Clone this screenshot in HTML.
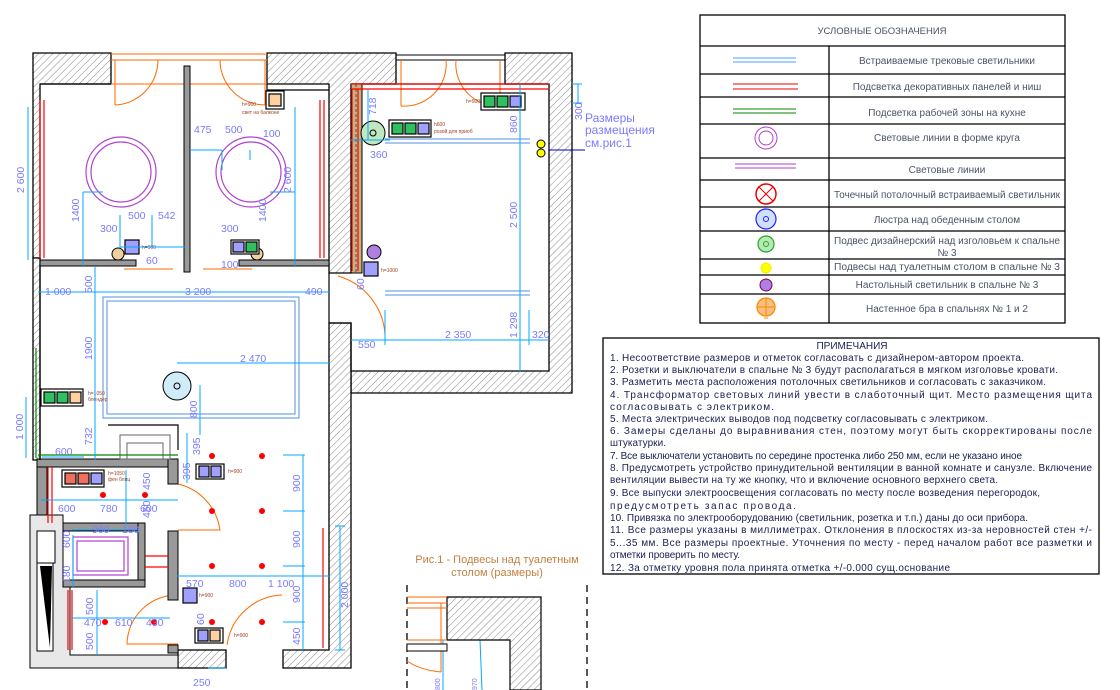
<!DOCTYPE html>
<html><head><meta charset="utf-8"><style>
html,body{margin:0;padding:0;background:#fff}
svg{display:block}
text{font-family:"Liberation Sans Narrow","Liberation Sans",sans-serif}
.d{fill:#7a7aff;font-size:10.5px}
.lg{fill:#4a5468;font-size:10px}
.nt{fill:#1a2050;font-size:10px}
.sm{fill:#a04020;font-size:5px}
</style></head><body>
<svg width="1120" height="690" viewBox="0 0 1120 690" xmlns="http://www.w3.org/2000/svg">
<defs>
<pattern id="h" width="5" height="5" patternUnits="userSpaceOnUse" patternTransform="rotate(45)">
<rect width="5" height="5" fill="#fff"/><line x1="0" y1="0" x2="0" y2="5" stroke="#888" stroke-width="1"/>
</pattern>
</defs>

<g stroke="#000" stroke-width="1.3">
<path d="M33 53 H111 V84 H40 V258 H33 Z" fill="url(#h)"/>
<path d="M33 258 H40 V460 H33 Z" fill="url(#h)"/>
<path d="M267 53 H396 V84 H351 V273 H329 V84 H267 Z" fill="url(#h)"/>
<path d="M505 53 H572 V393 H351 V371 H549 V84 H505 Z" fill="url(#h)"/>
<path d="M329 323 H351 V668 H283 V650 H329 Z" fill="url(#h)"/>
<path d="M329 323 H351 V371" fill="none"/>
<rect x="178" y="650" width="48" height="18" fill="url(#h)"/>
</g>
<g stroke="#000" stroke-width="1">
<line x1="396" y1="55" x2="505" y2="55"/><line x1="396" y1="60" x2="505" y2="60"/>
</g>
<g stroke="#ff6a00" stroke-width="1" fill="none">
<line x1="111" y1="54" x2="267" y2="54"/><line x1="111" y1="60" x2="267" y2="60"/><line x1="111" y1="84" x2="267" y2="84"/>
<line x1="115" y1="60" x2="115" y2="105"/><path d="M115 105 A45 45 0 0 0 158 60"/>
<line x1="265" y1="60" x2="265" y2="105"/><path d="M265 105 A45 45 0 0 1 220 60"/>
<line x1="401" y1="60" x2="401" y2="106"/><path d="M401 106 A42 42 0 0 0 446 60"/>
<line x1="500" y1="60" x2="500" y2="106"/><path d="M500 106 A42 42 0 0 1 456 60"/>
<path d="M338 276 A65 65 0 0 1 385 335"/>
<path d="M178 484 A55 55 0 0 1 220 530 H178"/>
<path d="M178 644 H127 A50 50 0 0 1 178 595"/>
<path d="M227 645 A58 58 0 0 1 282 595"/>
<line x1="124" y1="269" x2="173" y2="269"/><line x1="203" y1="269" x2="252" y2="269"/>
</g>
<g fill="#999" stroke="#000" stroke-width="1">
<rect x="184" y="66" width="6" height="206"/>
<rect x="40" y="260" width="96" height="6"/>
<rect x="239" y="260" width="90" height="6"/>
<rect x="37" y="459" width="141" height="8"/>
<rect x="168" y="459" width="10" height="25"/>
<rect x="37" y="467" width="10" height="58"/>
<rect x="37" y="523" width="108" height="8"/>
<rect x="138" y="523" width="7" height="64"/>
<rect x="63" y="580" width="82" height="7"/>
<rect x="168" y="531" width="10" height="69"/>
<rect x="168" y="645" width="10" height="8"/>
</g>
<g fill="#e8e8e8" stroke="#000" stroke-width="1">
<path d="M30 515 H63 V587 H70 V655 H178 V668 H30 Z"/>
</g>
<rect x="37" y="563" width="16" height="88" fill="#fff" stroke="#000"/>
<polygon points="40,566 52,566 50,648" fill="#000"/>
<rect x="37" y="531" width="18" height="32" fill="#fff" stroke="#000"/>
<g stroke="#000" stroke-width="1.2" fill="none">
<path d="M40 84 H111"/><path d="M267 84 V90 H329"/><path d="M351 84 H549"/>
<path d="M40 266 V460"/><path d="M329 273 V323"/>
<path d="M108 425 H178 V450"/>
</g>
<rect x="120" y="435" width="50" height="24" fill="none" stroke="#666"/>
<rect x="127" y="443" width="36" height="16" fill="none" stroke="#666"/>
<rect x="351" y="84" width="11" height="189" fill="#c8b080" stroke="#000"/>
<line x1="356" y1="84" x2="356" y2="273" stroke="#555" stroke-dasharray="3,2"/>

<g stroke="#ff0000" stroke-width="1.2" fill="none">
<line x1="40" y1="100" x2="40" y2="258"/><line x1="44" y1="100" x2="44" y2="258"/>
<line x1="320" y1="100" x2="320" y2="258"/><line x1="324" y1="100" x2="324" y2="258"/>
<line x1="351" y1="84" x2="549" y2="84"/><line x1="351" y1="89" x2="549" y2="89"/>
<line x1="352" y1="89" x2="352" y2="271"/><line x1="358" y1="89" x2="358" y2="271"/>
<line x1="48" y1="467" x2="48" y2="523"/><line x1="52" y1="467" x2="52" y2="523"/>
<line x1="68" y1="590" x2="68" y2="650"/><line x1="72" y1="590" x2="72" y2="650"/>
<line x1="145" y1="556" x2="168" y2="556"/><line x1="145" y1="567" x2="168" y2="567"/>
<line x1="323" y1="528" x2="323" y2="648"/>
</g>
<g stroke="#008800" stroke-width="1.2"><line x1="36" y1="348" x2="36" y2="458"/><line x1="38" y1="455" x2="178" y2="455"/></g>

<g fill="none" stroke="#b040d0" stroke-width="1.2">
<circle cx="121" cy="172" r="35"/><circle cx="121" cy="172" r="30"/>
<circle cx="251" cy="172" r="35"/><circle cx="251" cy="172" r="30"/>
<rect x="73" y="537" width="55" height="38"/><rect x="77" y="541" width="47" height="30"/>
</g>
<g fill="none" stroke="#5090e0" stroke-width="1">
<rect x="103" y="297" width="196" height="121"/><rect x="107" y="301" width="188" height="113"/>
<line x1="385" y1="139" x2="530" y2="139"/><line x1="385" y1="143" x2="530" y2="143"/>
<line x1="385" y1="291" x2="530" y2="291"/><line x1="385" y1="295" x2="530" y2="295"/>
</g>
<circle cx="177" cy="386" r="14" fill="#d0ecf8" stroke="#000"/><circle cx="177" cy="386" r="3" fill="none" stroke="#000"/>
<circle cx="373" cy="133" r="12" fill="#c0e8c0" stroke="#000"/><circle cx="373" cy="133" r="3" fill="none" stroke="#000"/>
<circle cx="374" cy="252" r="7" fill="#b080e0" stroke="#000"/>
<g fill="#ff0" stroke="#000"><circle cx="541" cy="144" r="4"/><circle cx="541" cy="153" r="4"/></g>
<g fill="#f0d0a0" stroke="#000"><circle cx="118" cy="254" r="6"/><circle cx="257" cy="254" r="6"/></g>
<g fill="#f00">
<circle cx="212" cy="456" r="3"/><circle cx="262" cy="456" r="3"/><circle cx="212" cy="511" r="3"/><circle cx="262" cy="511" r="3"/>
<circle cx="212" cy="566" r="3"/><circle cx="262" cy="566" r="3"/><circle cx="212" cy="622" r="3"/><circle cx="262" cy="622" r="3"/>
<circle cx="103" cy="495" r="3"/><circle cx="145" cy="495" r="3"/><circle cx="105" cy="622" r="3"/><circle cx="154" cy="622" r="3"/>
</g>
<g stroke="#000" stroke-width="1.2">
<rect x="266" y="91" width="18" height="18" fill="#fff"/><rect x="269" y="94" width="12" height="12" fill="#ffd0a0"/>
<rect x="481" y="93" width="44" height="17" fill="#fff"/><rect x="484" y="96" width="11" height="11" fill="#30c060"/><rect x="497" y="96" width="11" height="11" fill="#30c060"/><rect x="510" y="96" width="11" height="11" fill="#a0a0ff"/>
<rect x="389" y="120" width="42" height="17" fill="#fff"/><rect x="392" y="123" width="11" height="11" fill="#30c060"/><rect x="405" y="123" width="11" height="11" fill="#30c060"/><rect x="418" y="123" width="11" height="11" fill="#a0a0ff"/>
<rect x="364" y="262" width="14" height="14" fill="#a0a0ff"/>
<rect x="125" y="240" width="14" height="14" fill="#a0a0ff"/>
<rect x="231" y="240" width="28" height="14" fill="#fff"/><rect x="233" y="242" width="11" height="10" fill="#a0a0ff"/><rect x="246" y="242" width="11" height="10" fill="#30c060"/>
<rect x="41" y="389" width="42" height="17" fill="#fff"/><rect x="44" y="392" width="11" height="11" fill="#30c060"/><rect x="57" y="392" width="11" height="11" fill="#30c060"/><rect x="70" y="392" width="11" height="11" fill="#ffd0a0"/>
<rect x="62" y="470" width="42" height="17" fill="#fff"/><rect x="65" y="473" width="11" height="11" fill="#f07060"/><rect x="78" y="473" width="11" height="11" fill="#f07060"/><rect x="91" y="473" width="11" height="11" fill="#a0a0ff"/>
<rect x="196" y="464" width="28" height="15" fill="#fff"/><rect x="199" y="466" width="10" height="11" fill="#a0a0ff"/><rect x="211" y="466" width="10" height="11" fill="#a0a0ff"/>
<rect x="183" y="588" width="14" height="15" fill="#a0a0ff"/>
<rect x="195" y="628" width="28" height="15" fill="#fff"/><rect x="198" y="630" width="10" height="11" fill="#a0a0ff"/><rect x="210" y="630" width="10" height="11" fill="#ffd0a0"/>
</g>
<g class="sm">
<text x="242" y="106">h=900</text><text x="242" y="114">свет на балконе</text>
<text x="466" y="103">h=900</text><text x="434" y="126">h600</text><text x="434" y="133">розой для приоб</text>
<text x="381" y="272">h=1000</text><text x="142" y="249">h=900</text><text x="88" y="395">h=1050</text><text x="88" y="401">блендер</text>
<text x="108" y="475">h=1050</text><text x="108" y="481">фен блиц</text><text x="228" y="473">h=900</text><text x="199" y="597">h=900</text><text x="234" y="637">h=900</text>
</g>

<g stroke="#00aaff" stroke-width="1" fill="none">
<line x1="28" y1="107" x2="28" y2="260"/><line x1="295" y1="107" x2="295" y2="260"/>
<line x1="83" y1="192" x2="83" y2="266"/><line x1="83" y1="192" x2="103" y2="192"/>
<line x1="120" y1="248" x2="120" y2="215"/><line x1="120" y1="247" x2="186" y2="247"/><line x1="152" y1="215" x2="152" y2="247"/>
<line x1="190" y1="150" x2="222" y2="150"/><line x1="222" y1="150" x2="222" y2="170"/><line x1="250" y1="150" x2="250" y2="160"/>
<line x1="270" y1="192" x2="295" y2="192"/><line x1="295" y1="192" x2="295" y2="266"/>
<line x1="38" y1="292" x2="330" y2="292"/><line x1="95" y1="266" x2="95" y2="460"/>
<line x1="368" y1="90" x2="368" y2="140"/><line x1="351" y1="140" x2="390" y2="140"/>
<line x1="520" y1="84" x2="520" y2="372"/><line x1="572" y1="84" x2="582" y2="84"/><line x1="572" y1="103" x2="582" y2="103"/><line x1="578" y1="84" x2="578" y2="103"/>
<line x1="351" y1="340" x2="549" y2="340"/><line x1="385" y1="310" x2="385" y2="345"/><line x1="529" y1="310" x2="529" y2="345"/>
<line x1="177" y1="363" x2="330" y2="363"/><line x1="200" y1="385" x2="200" y2="435"/>
<line x1="26" y1="397" x2="26" y2="458"/><line x1="42" y1="457" x2="84" y2="457"/>
<line x1="187" y1="433" x2="187" y2="483"/>
<line x1="41" y1="500" x2="178" y2="500"/><line x1="126" y1="470" x2="126" y2="525"/>
<line x1="72" y1="530" x2="140" y2="530"/><line x1="73" y1="535" x2="73" y2="587"/>
<line x1="283" y1="455" x2="305" y2="455"/><line x1="283" y1="511" x2="305" y2="511"/><line x1="283" y1="566" x2="305" y2="566"/><line x1="283" y1="622" x2="305" y2="622"/>
<line x1="303" y1="455" x2="303" y2="650"/><line x1="177" y1="576" x2="330" y2="576"/>
<line x1="340" y1="526" x2="340" y2="650"/><line x1="335" y1="526" x2="345" y2="526"/><line x1="335" y1="650" x2="345" y2="650"/>
<line x1="97" y1="590" x2="97" y2="655"/><line x1="72" y1="618" x2="170" y2="618"/>
<line x1="208" y1="668" x2="226" y2="668"/>
<line x1="443" y1="640" x2="443" y2="690"/><line x1="480" y1="640" x2="482" y2="690"/><line x1="468" y1="640" x2="482" y2="640"/>
</g>
<line x1="549" y1="150" x2="585" y2="150" stroke="#0000c0"/>
<g class="d">
<text x="45" y="295">1 000</text><text x="185" y="295">3 200</text><text x="305" y="295">490</text>
<text x="263" y="137">100</text><text x="194" y="133">475</text><text x="225" y="133">500</text>
<text x="128" y="219">500</text><text x="158" y="219">542</text><text x="100" y="232">300</text><text x="221" y="232">300</text>
<text x="146" y="264">60</text><text x="221" y="268">100</text>
<text x="370" y="158">360</text><text x="358" y="348">550</text><text x="445" y="338">2 350</text><text x="532" y="338">320</text>
<text x="240" y="362">2 470</text><text x="55" y="455">600</text>
<text x="58" y="512">600</text><text x="100" y="512">780</text><text x="140" y="512">600</text>
<text x="92" y="533">900</text><text x="122" y="533">180</text>
<text x="186" y="587">570</text><text x="229" y="587">800</text><text x="268" y="587">1 100</text>
<text x="84" y="626">470</text><text x="115" y="626">610</text><text x="146" y="626">430</text>
<text x="193" y="686">250</text>
<text x="585" y="122" font-size="12">Размеры</text><text x="585" y="134" font-size="12">размещения</text><text x="585" y="147" font-size="12">см.рис.1</text>
</g>
<g class="d">
<text transform="translate(24,193) rotate(-90)">2 600</text><text transform="translate(291,193) rotate(-90)">2 600</text>
<text transform="translate(79,222) rotate(-90)">1400</text><text transform="translate(266,222) rotate(-90)">1400</text>
<text transform="translate(92,293) rotate(-90)">500</text><text transform="translate(92,360) rotate(-90)">1900</text>
<text transform="translate(376,115) rotate(-90)">718</text><text transform="translate(517,133) rotate(-90)">860</text>
<text transform="translate(517,228) rotate(-90)">2 500</text><text transform="translate(517,338) rotate(-90)">1 298</text>
<text transform="translate(582,120) rotate(-90)">300</text><text transform="translate(364,290) rotate(-90)">60</text>
<text transform="translate(197,418) rotate(-90)">800</text><text transform="translate(23,440) rotate(-90)">1 000</text>
<text transform="translate(92,445) rotate(-90)">732</text><text transform="translate(200,455) rotate(-90)">395</text>
<text transform="translate(190,480) rotate(-90)">395</text><text transform="translate(150,490) rotate(-90)">450</text>
<text transform="translate(150,518) rotate(-90)">450</text><text transform="translate(70,548) rotate(-90)">600</text>
<text transform="translate(70,583) rotate(-90)">180</text><text transform="translate(300,492) rotate(-90)">900</text>
<text transform="translate(300,548) rotate(-90)">900</text><text transform="translate(300,603) rotate(-90)">900</text>
<text transform="translate(300,645) rotate(-90)">450</text><text transform="translate(348,608) rotate(-90)">2 000</text>
<text transform="translate(93,615) rotate(-90)">500</text><text transform="translate(93,650) rotate(-90)">500</text>
<text transform="translate(204,625) rotate(-90)">60</text>
<text transform="translate(477,690) rotate(-90)" font-size="7">970</text><text transform="translate(440,690) rotate(-90)" font-size="7">800</text>
</g>

<text x="497" y="563" text-anchor="middle" fill="#c08040" font-size="11">Рис.1 - Подвесы над туалетным</text>
<text x="497" y="576" text-anchor="middle" fill="#c08040" font-size="11">столом (размеры)</text>
<g stroke="#000" stroke-width="1.3" stroke-dasharray="7,5"><line x1="407" y1="585" x2="407" y2="690"/><line x1="587" y1="585" x2="587" y2="690"/></g>
<path d="M447 597 H541 V690 H510 V640 H447 Z" fill="url(#h)" stroke="#000" stroke-width="1.2"/>
<g stroke="#ff6a00" fill="none"><line x1="407" y1="597" x2="447" y2="597"/><line x1="407" y1="603" x2="447" y2="603"/><line x1="407" y1="608" x2="447" y2="608"/><line x1="407" y1="640" x2="447" y2="640"/><line x1="441" y1="603" x2="441" y2="672"/><path d="M407 661 Q420 670 441 672"/></g>
<rect x="407" y="644" width="40" height="7" fill="#fff" stroke="#000"/>

<g stroke="#000" stroke-width="1.3" fill="none">
<rect x="700" y="15" width="365" height="308"/>
<line x1="829" y1="46" x2="829" y2="323"/>
<line x1="700" y1="46" x2="1065" y2="46"/><line x1="700" y1="74" x2="1065" y2="74"/><line x1="700" y1="97" x2="1065" y2="97"/>
<line x1="700" y1="124" x2="1065" y2="124"/><line x1="700" y1="158" x2="1065" y2="158"/><line x1="700" y1="180" x2="1065" y2="180"/>
<line x1="700" y1="207" x2="1065" y2="207"/><line x1="700" y1="231" x2="1065" y2="231"/><line x1="700" y1="259" x2="1065" y2="259"/>
<line x1="700" y1="275" x2="1065" y2="275"/><line x1="700" y1="294" x2="1065" y2="294"/>
</g>
<g stroke-width="1">
<line x1="733" y1="58" x2="796" y2="58" stroke="#4aa0ff"/><line x1="733" y1="62" x2="796" y2="62" stroke="#4aa0ff"/>
<line x1="733" y1="84" x2="798" y2="84" stroke="#e00"/><line x1="733" y1="89" x2="798" y2="89" stroke="#e00"/>
<line x1="733" y1="109" x2="796" y2="109" stroke="#080"/><line x1="733" y1="113" x2="796" y2="113" stroke="#080"/>
<line x1="735" y1="164" x2="796" y2="164" stroke="#b040d0"/><line x1="735" y1="168" x2="796" y2="168" stroke="#b040d0"/>
</g>
<circle cx="766" cy="138" r="11" fill="none" stroke="#b040d0"/><circle cx="766" cy="138" r="7" fill="none" stroke="#b040d0"/>
<circle cx="766" cy="194" r="10" fill="none" stroke="#e00" stroke-width="1.5"/><path d="M759 187 L773 201 M773 187 L759 201" stroke="#e00"/>
<circle cx="766" cy="219" r="10" fill="#d0e0ff" stroke="#22f" stroke-width="1.2"/><circle cx="766" cy="219" r="2.5" fill="none" stroke="#22f"/>
<circle cx="766" cy="244" r="8" fill="#b8e8b8" stroke="#2a2" stroke-width="1.2"/><circle cx="766" cy="244" r="2.5" fill="none" stroke="#2a2"/>
<circle cx="766" cy="268" r="5" fill="#ff0" stroke="#ee0"/>
<circle cx="766" cy="285" r="6" fill="#b080e0" stroke="#705"/>
<circle cx="766" cy="307" r="9" fill="#f8c080" stroke="#f80" stroke-width="1.3"/><path d="M757 307 H775 M766 298 V316 M764 318 H768" stroke="#f80"/>
<g class="lg" text-anchor="middle">
<text x="882" y="34" font-size="9.5">УСЛОВНЫЕ ОБОЗНАЧЕНИЯ</text>
<text x="947" y="64">Встраиваемые трековые светильники</text>
<text x="947" y="90">Подсветка декоративных панелей и ниш</text>
<text x="947" y="116">Подсветка рабочей зоны на кухне</text>
<text x="947" y="141">Световые линии в форме круга</text>
<text x="947" y="173">Световые линии</text>
<text x="947" y="198" textLength="226" lengthAdjust="spacingAndGlyphs">Точечный потолочный встраиваемый светильник</text>
<text x="947" y="223">Люстра над обеденным столом</text>
<text x="947" y="244" textLength="226" lengthAdjust="spacingAndGlyphs">Подвес дизайнерский над изголовьем к спальне</text>
<text x="947" y="256">№ 3</text>
<text x="947" y="270" textLength="226" lengthAdjust="spacingAndGlyphs">Подвесы над туалетным столом в спальне № 3</text>
<text x="947" y="288">Настольный светильник в спальне № 3</text>
<text x="947" y="312">Настенное бра в спальнях № 1 и 2</text>
</g>

<rect x="603" y="338" width="496" height="236" fill="none" stroke="#000" stroke-width="1.3"/>
<g class="nt">
<text x="852" y="349" text-anchor="middle">ПРИМЕЧАНИЯ</text>
<text x="610" y="361" textLength="414">1. Несоответствие размеров и отметок согласовать с дизайнером-автором проекта.</text>
<text x="610" y="373" textLength="448">2. Розетки и выключатели в спальне № 3 будут располагаться в мягком изголовье кровати.</text>
<text x="610" y="385" textLength="436">3. Разметить места расположения потолочных светильников и согласовать с заказчиком.</text>
<text x="610" y="398" textLength="482">4.  Трансформатор  световых  линий  увести  в  слаботочный  щит.  Место  размещения  щита</text>
<text x="610" y="410" textLength="164">согласовывать с электриком.</text>
<text x="610" y="422" textLength="378">5. Места электрических выводов под подсветку согласовывать с электриком.</text>
<text x="610" y="434" textLength="482">6.  Замеры  сделаны  до  выравнивания  стен,  поэтому  могут  быть  скорректированы  после</text>
<text x="610" y="446" textLength="56">штукатурки.</text>
<text x="610" y="459" textLength="412">7. Все выключатели установить по середине простенка либо 250 мм, если не указано иное</text>
<text x="610" y="471" textLength="482">8. Предусмотреть устройство принудительной вентиляции в ванной комнате и санузле. Включение</text>
<text x="610" y="483" textLength="388">вентиляции вывести на ту же кнопку, что и включение основного верхнего света.</text>
<text x="610" y="496" textLength="430">9. Все выпуски электроосвещения согласовать по месту после возведения перегородок,</text>
<text x="610" y="509" textLength="186">предусмотреть запас провода.</text>
<text x="610" y="521" textLength="418">10. Привязка по электрооборудованию (светильник, розетка и т.п.) даны до оси прибора.</text>
<text x="610" y="533" textLength="482">11. Все размеры указаны в миллиметрах. Отклонения в плоскостях из-за неровностей стен +/-</text>
<text x="610" y="546" textLength="482">5...35 мм. Все размеры проектные. Уточнения по месту - перед началом работ все разметки и</text>
<text x="610" y="558" textLength="130">отметки проверить по месту.</text>
<text x="610" y="571" textLength="340">12. За отметку уровня пола принята отметка +/-0.000 сущ.основание</text>
</g>
</svg>
</body></html>
